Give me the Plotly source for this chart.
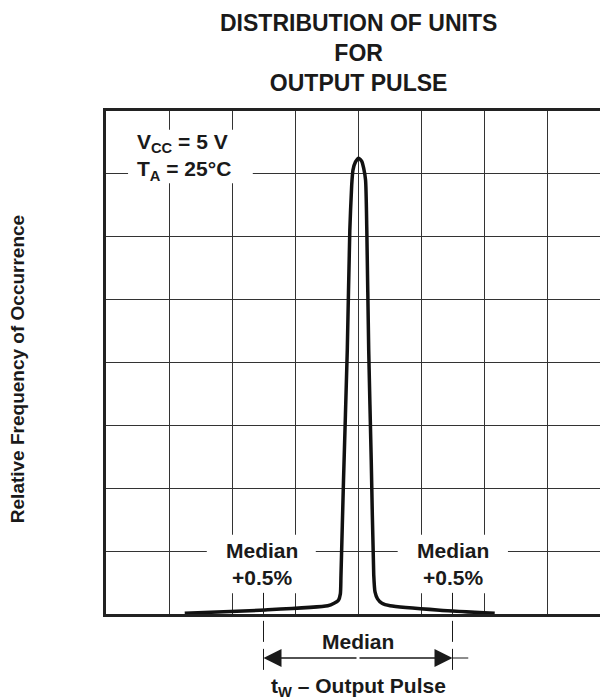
import plotly.graph_objects as go

# ---- data (grid units: x = columns from left edge, y = rows from bottom) ----
curve_x = [1.25, 2.44, 3.52, 3.62, 3.69, 3.72, 3.73, 3.77, 3.83, 3.87, 3.90, 3.92, 3.96, 4.01,
           4.06, 4.09, 4.12, 4.14, 4.17, 4.21, 4.25, 4.27, 4.31, 4.38, 4.51, 5.30, 6.17]
curve_y = [0.01, 0.06, 0.13, 0.17, 0.22, 0.32, 0.62, 2.13, 4.20, 6.10, 6.82, 7.06, 7.19, 7.25,
           7.20, 7.09, 6.90, 6.10, 4.20, 2.45, 0.62, 0.35, 0.24, 0.17, 0.13, 0.06, 0.01]

median_x = 4.0
minus_x = 2.5
plus_x = 5.5

title_text = "<b>DISTRIBUTION OF UNITS<br>FOR<br>OUTPUT PULSE</b>"
cond_text = "<b>V<sub>CC</sub> = 5 V<br>T<sub>A</sub> = 25°C</b>"
label_text = "<b>Median<br>+0.5%</b>"
xlabel_text = "<b>t<sub>W</sub> – Output Pulse</b>"
ylabel_text = "<b>Relative Frequency of Occurrence</b>"

FONT = "Liberation Sans, Arial, Helvetica, sans-serif"
INK = "#1a1a1a"

fig = go.Figure()
fig.add_trace(go.Scatter(x=curve_x, y=curve_y, mode="lines",
                         line=dict(color="#111111", width=3.5, shape="spline", smoothing=0.6),
                         hoverinfo="skip", showlegend=False))

# white boxes behind in-plot labels (above grid, below curve)
for x0, x1, y0, y1 in [(0.35, 2.33, 6.85, 7.70), (1.60, 3.33, 0.33, 1.26), (4.63, 6.38, 0.33, 1.26)]:
    fig.add_shape(type="rect", xref="x", yref="y", x0=x0, x1=x1, y0=y0, y1=y1,
                  fillcolor="white", line=dict(width=0), layer="between")

# dashed median +-0.5% markers
for xv in (minus_x, plus_x):
    fig.add_shape(type="line", xref="x", yref="paper", x0=xv, x1=xv, y0=0.042, y1=-0.1153,
                  line=dict(color=INK, width=1, dash="21px,7px"))
# extension of arrow line past right marker
fig.add_shape(type="line", xref="x", yref="paper", x0=plus_x, x1=plus_x + 0.25, y0=-0.0875, y1=-0.0875,
              line=dict(color=INK, width=1))

annos = [
    dict(x=0.502, y=1.115, xref="paper", yref="paper", text=title_text, showarrow=False,
         font=dict(family=FONT, size=23, color=INK), xanchor="center", yanchor="middle", align="center"),
    dict(x=0.46, y=7.27, xref="x", yref="y", text=cond_text, showarrow=False,
         font=dict(family=FONT, size=21, color=INK), xanchor="left", yanchor="middle", align="left"),
    dict(x=minus_x - 0.03, y=0.80, xref="x", yref="y", text=label_text, showarrow=False,
         font=dict(family=FONT, size=21, color=INK), xanchor="center", yanchor="middle", align="center"),
    dict(x=plus_x + 0.01, y=0.80, xref="x", yref="y", text=label_text, showarrow=False,
         font=dict(family=FONT, size=21, color=INK), xanchor="center", yanchor="middle", align="center"),
    dict(x=median_x, y=-0.054, xref="x", yref="paper", text="<b>Median</b>", showarrow=False,
         font=dict(family=FONT, size=21, color=INK), xanchor="center", yanchor="middle"),
    dict(x=median_x, y=-0.145, xref="x", yref="paper", text=xlabel_text, showarrow=False,
         font=dict(family=FONT, size=21, color=INK), xanchor="center", yanchor="middle"),
    dict(x=-0.177, y=0.487, xref="paper", yref="paper", text=ylabel_text, showarrow=False, textangle=-90,
         font=dict(family=FONT, size=19, color=INK), xanchor="center", yanchor="middle"),
    # arrows
    dict(x=minus_x, y=-0.0875, xref="x", yref="paper", ax=(median_x - minus_x) * 63, ay=0,
         showarrow=True, arrowhead=2, arrowsize=2.4, arrowwidth=1.5, arrowcolor=INK, text=""),
    dict(x=plus_x, y=-0.0875, xref="x", yref="paper", ax=(median_x - plus_x) * 63, ay=0,
         showarrow=True, arrowhead=2, arrowsize=2.4, arrowwidth=1.5, arrowcolor=INK, text=""),
]
fig.update_layout(annotations=annos)

fig.update_layout(
    width=600, height=692,
    margin=dict(l=98, r=0, t=103, b=86),
    paper_bgcolor="white", plot_bgcolor="white",
    showlegend=False,
    xaxis=dict(range=[0, 502 / 63], dtick=1, tick0=0, showgrid=True, gridcolor="#333333", gridwidth=1,
               zeroline=False, showticklabels=False, ticks="", showline=True, linecolor="#222222",
               linewidth=2.5, mirror=True, fixedrange=True),
    yaxis=dict(range=[0, 8], dtick=1, tick0=0, showgrid=True, gridcolor="#333333", gridwidth=1,
               zeroline=False, showticklabels=False, ticks="", showline=True, linecolor="#222222",
               linewidth=2.5, mirror=False, fixedrange=True),
)

fig.write_html("out.html")
